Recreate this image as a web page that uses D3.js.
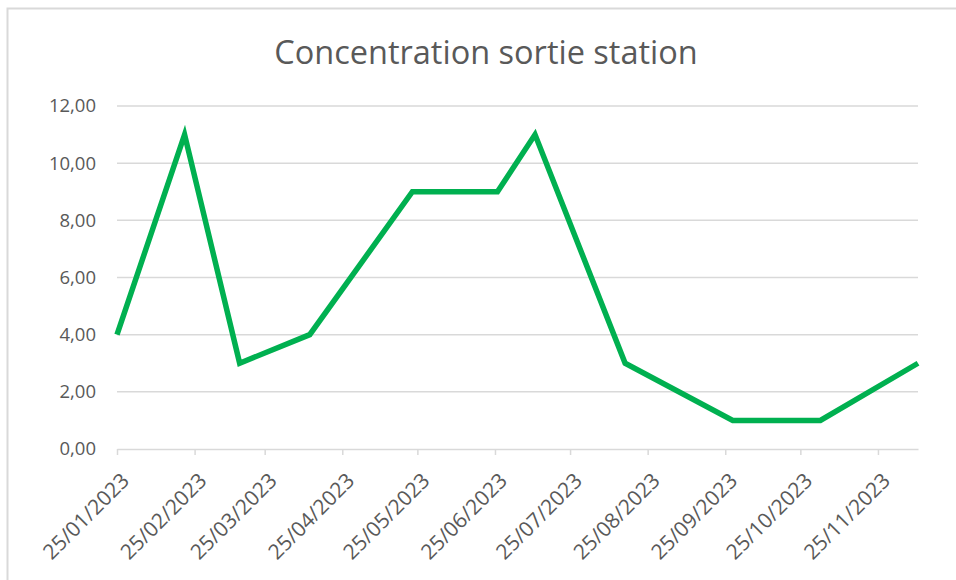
<!DOCTYPE html>
<html>
<head>
<meta charset="utf-8">
<script src="https://cdn.jsdelivr.net/npm/d3@7"></script>
<style>
  body { margin: 0; background: #fff; }
  svg text { font-family: "Open Sans", "Liberation Sans", sans-serif; fill: #595959; }
</style>
</head>
<body>
<div id="chart"></div>
<script>
// measurement dates (dd/mm/yyyy) and concentrations
var dates = ["25/01/2023","21/02/2023","15/03/2023","12/04/2023","23/05/2023","26/06/2023",
             "11/07/2023","16/08/2023","28/09/2023","02/11/2023","11/12/2023"];
var values = [4, 11, 3, 4, 9, 9, 11, 3, 1, 1, 3];
var yTicks = [0, 2, 4, 6, 8, 10, 12];
var title = "Concentration sortie station";

var parse = d3.timeParse("%d/%m/%Y");
var fmt = d3.timeFormat("%d/%m/%Y");
var data = dates.map(function (d, i) { return { date: parse(d), value: values[i] }; });

var W = 956, H = 580;
var plotLeft = 117, plotRight = 918, plotTop = 106, plotBottom = 449;

var svg = d3.select("#chart").append("svg")
  .attr("width", W)
  .attr("height", H);

// chart frame
svg.append("rect")
  .attr("x", 7.5).attr("y", 8.5)
  .attr("width", W).attr("height", H)
  .attr("fill", "none")
  .attr("stroke", "#d9d9d9")
  .attr("stroke-width", 2);

var x = d3.scaleTime()
  .domain(d3.extent(data, function (d) { return d.date; }))
  .range([plotLeft, plotRight]);

var y = d3.scaleLinear()
  .domain([0, 12])
  .range([plotBottom, plotTop]);

// gridlines
svg.append("g")
  .selectAll("line")
  .data(yTicks.filter(function (t) { return t > 0; }))
  .enter().append("line")
  .attr("x1", plotLeft).attr("x2", plotRight)
  .attr("y1", function (d) { return y(d); })
  .attr("y2", function (d) { return y(d); })
  .attr("stroke", "#d9d9d9")
  .attr("stroke-width", 1.5);

// y axis labels
var yAxis = d3.axisLeft(y)
  .tickValues(yTicks)
  .tickSize(0)
  .tickPadding(21)
  .tickFormat(function (d) { return d3.format(".2f")(d).replace(".", ","); });

svg.append("g")
  .attr("transform", "translate(" + plotLeft + ",0)")
  .call(yAxis)
  .call(function (g) { g.select(".domain").remove(); })
  .selectAll("text")
  .style("font-size", "18.5px")
  .attr("fill", "#595959");

// x axis: monthly ticks on the 25th
var start = x.domain()[0], end = x.domain()[1];
var monthTicks = d3.range(0, 12)
  .map(function (m) { return d3.timeMonth.offset(start, m); })
  .filter(function (d) { return d <= end; });

var xAxis = d3.axisBottom(x)
  .tickValues(monthTicks)
  .tickSize(6)
  .tickSizeOuter(0)
  .tickFormat(fmt);

var gx = svg.append("g")
  .attr("transform", "translate(0," + plotBottom + ")")
  .call(xAxis);

gx.select(".domain").attr("stroke", "#d9d9d9").attr("stroke-width", 1.5);
gx.selectAll(".tick line").attr("stroke", "#d9d9d9").attr("stroke-width", 1.5);
gx.selectAll("text")
  .style("font-size", "21px")
  .attr("fill", "#595959")
  .attr("text-anchor", "end")
  .attr("x", null).attr("y", null).attr("dy", null)
  .attr("transform", "translate(13,33) rotate(-45)");

// line
var line = d3.line()
  .x(function (d) { return x(d.date); })
  .y(function (d) { return y(d.value); });

svg.append("path")
  .datum(data)
  .attr("d", line)
  .attr("fill", "none")
  .attr("stroke", "#00b050")
  .attr("stroke-width", 5.5)
  .attr("stroke-linejoin", "miter");

// title
svg.append("text")
  .attr("x", 486)
  .attr("y", 64)
  .attr("text-anchor", "middle")
  .style("font-size", "32.5px")
  .text(title);
</script>
</body>
</html>
